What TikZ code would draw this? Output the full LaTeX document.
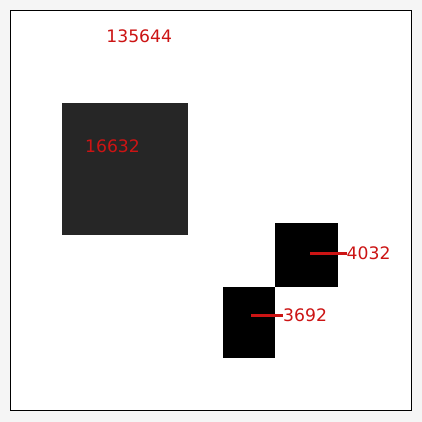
\documentclass[tikz,border=0pt]{standalone}
\usepackage{fontspec}
\setmainfont{DejaVu Sans}
\definecolor{bg}{RGB}{245,245,245}
\definecolor{dark}{RGB}{38,38,38}
\definecolor{lab}{RGB}{204,20,20}
\tikzset{
  box/.style={draw=none,inner sep=0pt,outer sep=0pt,anchor=north west},
  lbl/.style={text=lab,inner sep=0pt,font=\fontsize{17.2}{20}\selectfont},
  lead/.style={draw=lab,line width=3pt}
}
\begin{document}
\begin{tikzpicture}[x=1pt,y=-1pt]
\useasboundingbox (0,0) rectangle (422,422);
\fill[bg] (0,0) rectangle (422,422);
\node[box,fill=white,draw=black,line width=1pt,minimum width=401pt,minimum height=400pt] (frame) at (10.5,10.5) {};
\node[box,fill=dark,minimum width=126pt,minimum height=132pt] (big) at (62,103) {};
\node[box,fill=black,minimum width=63pt,minimum height=64pt] (b1) at (275,223) {};
\node[box,fill=black,minimum width=52pt,minimum height=71pt] (b2) at (223,287) {};
\node[lbl] (t0) at (139.2,35.8) {135644};
\node[lbl] (t1) at (112.5,146) {16632};
\node[lbl,anchor=west] (t2) at (346.5,253.5) {4032};
\node[lbl,anchor=west] (t3) at (283,315.5) {3692};
\coordinate (p2) at (310,253.5);
\coordinate (p3) at (251,315.5);
\draw[lead] (p2) -- (t2.west);
\draw[lead] (p3) -- (t3.west);
\end{tikzpicture}
\end{document}
